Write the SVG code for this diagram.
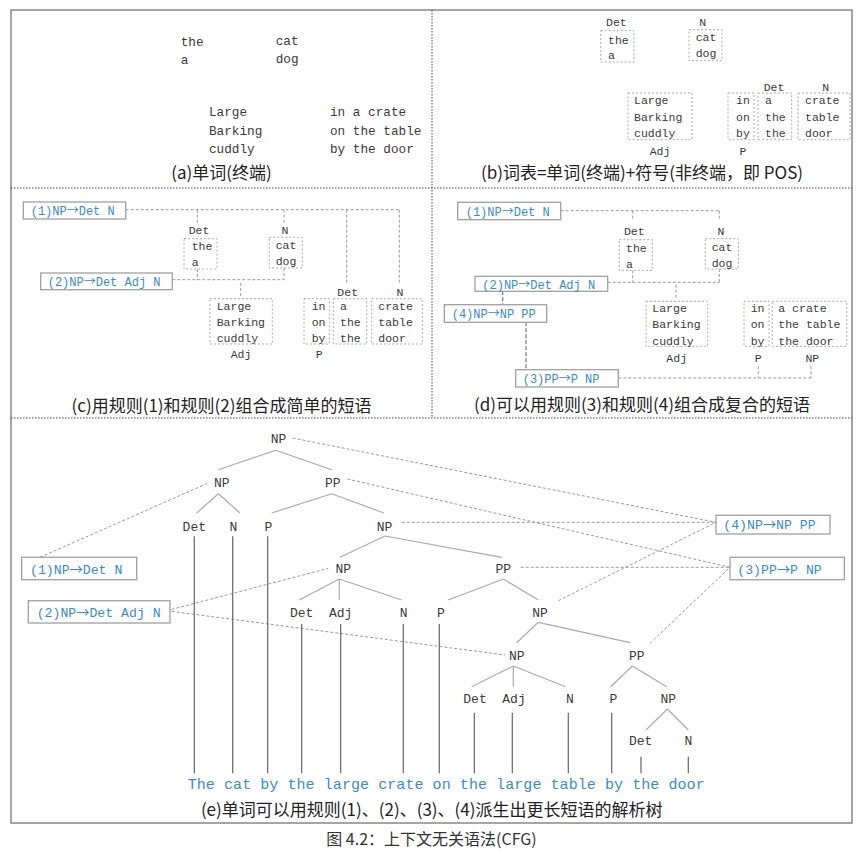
<svg xmlns="http://www.w3.org/2000/svg" width="868" height="852" viewBox="0 0 868 852">
<style>
.t{font-family:"Liberation Mono","DejaVu Sans Mono",monospace;fill:#3a3a3a}
.la{font-size:12.7px}
.lx{font-size:11.5px}
.tl{font-size:13px;text-anchor:middle}
.m{text-anchor:middle}
.r{font-family:"Liberation Mono","DejaVu Sans Mono",monospace;fill:#3a8cc8;font-size:12px}
.re{font-size:13.2px}
.ar{font-family:"Noto Sans CJK SC",sans-serif}
.rb{fill:#fff;stroke:#a0a0a0;stroke-width:1.3}
.lb{fill:none;stroke:#aaa;stroke-width:1;stroke-dasharray:2 2}
.d{fill:none;stroke:#999;stroke-width:1;stroke-dasharray:3 2}
.dk{fill:none;stroke:#777;stroke-width:1.2;stroke-dasharray:4 2}
.br{fill:none;stroke:#aaa;stroke-width:1.2}
.st{fill:none;stroke:#666;stroke-width:1.2}
.cap{font-family:"Noto Sans CJK SC",sans-serif;font-size:17px;fill:#222;text-anchor:middle}
.div{fill:none;stroke:#444;stroke-width:1;stroke-dasharray:1.5 1.5}
</style>
<rect width="868" height="852" fill="#fff"/>
<g id="frame">
<rect x="11" y="10" width="841" height="813" fill="none" stroke="#888" stroke-width="1.5"/>
<path class="div" d="M11 188H852M11 418H852M432 10V418"/>
</g>

<g id="panel-a">
<text class="t la" x="180.7" y="45.5">the</text>
<text class="t la" x="180.7" y="63.5">a</text>
<text class="t la" x="275.7" y="44.5">cat</text>
<text class="t la" x="275.7" y="62.5">dog</text>
<text class="t la" x="209" y="116">Large</text>
<text class="t la" x="209" y="134.5">Barking</text>
<text class="t la" x="209" y="153">cuddly</text>
<text class="t la" x="330" y="116">in a crate</text>
<text class="t la" x="330" y="134.5">on the table</text>
<text class="t la" x="330" y="153">by the door</text>
<text class="cap" x="221.5" y="178.5">(a)单词(终端)</text>
</g>

<g id="panel-b">
<text class="t lx" x="606" y="26">Det</text>
<rect class="lb" x="600.7" y="30.7" width="33.3" height="31.3"/>
<text class="t lx" x="608" y="43.5">the</text>
<text class="t lx" x="608" y="58.5">a</text>
<text class="t lx m" x="702.7" y="26">N</text>
<rect class="lb" x="689" y="29.7" width="33" height="31"/>
<text class="t lx" x="695.7" y="41">cat</text>
<text class="t lx" x="695.7" y="56.5">dog</text>
<rect class="lb" x="628" y="93" width="64" height="46.7"/>
<text class="t lx" x="634" y="104">Large</text>
<text class="t lx" x="634" y="120.5">Barking</text>
<text class="t lx" x="634" y="137">cuddly</text>
<text class="t lx m" x="660" y="155">Adj</text>
<rect class="lb" x="728" y="93" width="26" height="46.7"/>
<text class="t lx" x="736" y="104">in</text>
<text class="t lx" x="736" y="120.5">on</text>
<text class="t lx" x="736" y="137">by</text>
<text class="t lx m" x="743" y="155">P</text>
<text class="t lx m" x="774" y="91">Det</text>
<rect class="lb" x="758" y="93" width="33.7" height="46.7"/>
<text class="t lx" x="765" y="104">a</text>
<text class="t lx" x="765" y="120.5">the</text>
<text class="t lx" x="765" y="137">the</text>
<text class="t lx m" x="825.7" y="91">N</text>
<rect class="lb" x="798" y="93" width="52" height="46.7"/>
<text class="t lx" x="805" y="104">crate</text>
<text class="t lx" x="805" y="120.5">table</text>
<text class="t lx" x="805" y="137">door</text>
<text class="cap" x="642" y="179">(b)词表=单词(终端)+符号(非终端，即 POS)</text>
</g>

<g id="connectors">
<path class="d" d="M125.7 209.7H399.3M197.3 209.7V224.7M284 209.7V224.7M346.7 209.7V284.7M399.3 209.7V284.7"/>
<path class="d" d="M172.3 279.7H284M197.3 269V279.7M284 268V279.7M240.7 283V296.3"/>
<path class="d" d="M560.7 210.7H719.3M632.7 210.7V219.7M719.3 210.7V219.7"/>
<path class="d" d="M607.7 282.3H719.3M632.7 270.3V282.3M719.3 269V282.3M676 284.7V298"/>
<path class="dk" d="M502.7 291.3V304.7M526 322.3V369.7"/>
<path class="d" d="M618.3 378H811M758.3 366.3V378M811 366.3V378"/>
<path class="d" d="M40 557.3L208.3 483M166.7 610.7L328.3 568.3M166.7 610.7L505 655M292.7 438L716 522.3M401.7 522.3H716M558.3 600.7L716 522.3M347.3 479L730 567.3M520.7 567.3H730M650 643.3L730 567.3"/>
<path class="br" d="M275.7 450.3L218.3 469.7M275.7 450.3L331.7 469.7M218.3 493.7L196.7 513M218.3 493.7L240 513M331.7 493.7L271.7 513M331.7 493.7L384 513M385 536L340 557.3M385 536L501.7 557.3M339.3 579L299.3 600M339.3 579V600M339.3 579L401.7 600M503.3 579L448.3 600M503.3 579L538.3 600M538.3 622.3L516.7 642.7M538.3 622.3L630 642.7M513.3 666L471.7 686.7M513.3 666V686.7M513.3 666L565.7 686.7M632.3 666L610.7 686.7M632.3 666L666.7 686.7M667.3 709L646 730M667.3 709L688.3 730"/>
<path class="st" d="M194.3 536.3V773.3M232.7 536.3V773.3M267.7 536.3V773.3M301.7 624V773.3M340.7 624V773.3M403.3 624V773.3M439.3 624V773.3M474.3 712.7V773.3M512.3 712.7V773.3M568.3 712.7V773.3M611.7 712.7V773.3M641 756.7V773.3M688.3 756.7V773.3"/>
</g>

<g id="panel-c">
<g id="c-rule1"><rect class="rb" x="23.3" y="202" width="102.4" height="17"/><text class="r" x="30.7" y="215">(1)NP<tspan class="ar">→</tspan>Det N</text></g>
<g id="c-rule2"><rect class="rb" x="40.7" y="273" width="131.6" height="16.7"/><text class="r" x="47.7" y="285.5">(2)NP<tspan class="ar">→</tspan>Det Adj N</text></g>
<text class="t lx m" x="199" y="234">Det</text>
<rect class="lb" x="184" y="238.7" width="33" height="30.3"/>
<text class="t lx" x="191.7" y="250">the</text>
<text class="t lx" x="191.7" y="265.5">a</text>
<text class="t lx m" x="285" y="234">N</text>
<rect class="lb" x="269.3" y="237.3" width="33" height="30.7"/>
<text class="t lx" x="275.7" y="249">cat</text>
<text class="t lx" x="275.7" y="264.5">dog</text>
<rect class="lb" x="210" y="298.7" width="62.3" height="45.3"/>
<text class="t lx" x="216.7" y="310">Large</text>
<text class="t lx" x="216.7" y="326">Barking</text>
<text class="t lx" x="216.7" y="342">cuddly</text>
<text class="t lx m" x="241" y="358">Adj</text>
<rect class="lb" x="304" y="298.7" width="25.3" height="45.3"/>
<text class="t lx" x="311.7" y="310">in</text>
<text class="t lx" x="311.7" y="326">on</text>
<text class="t lx" x="311.7" y="342">by</text>
<text class="t lx m" x="319.3" y="358">P</text>
<text class="t lx m" x="347.7" y="296">Det</text>
<rect class="lb" x="333.3" y="298.7" width="33.4" height="45.3"/>
<text class="t lx" x="340" y="310">a</text>
<text class="t lx" x="340" y="326">the</text>
<text class="t lx" x="340" y="342">the</text>
<text class="t lx m" x="400" y="296">N</text>
<rect class="lb" x="371.7" y="298.7" width="50.6" height="45.3"/>
<text class="t lx" x="378.3" y="310">crate</text>
<text class="t lx" x="378.3" y="326">table</text>
<text class="t lx" x="378.3" y="342">door</text>
<text class="cap" x="221.5" y="412">(c)用规则(1)和规则(2)组合成简单的短语</text>
</g>

<g id="panel-d">
<g id="d-rule1"><rect class="rb" x="457.7" y="202.3" width="103" height="17.4"/><text class="r" x="465.7" y="215.5">(1)NP<tspan class="ar">→</tspan>Det N</text></g>
<g id="d-rule2"><rect class="rb" x="475" y="276.3" width="132.7" height="15"/><text class="r" x="482.3" y="288.5">(2)NP<tspan class="ar">→</tspan>Det Adj N</text></g>
<g id="d-rule4"><rect class="rb" x="444.3" y="304.7" width="102.4" height="17.6"/><text class="r" x="451.7" y="318">(4)NP<tspan class="ar">→</tspan>NP PP</text></g>
<g id="d-rule3"><rect class="rb" x="515.7" y="369.7" width="102.6" height="17.3"/><text class="r" x="522.7" y="382.5">(3)PP<tspan class="ar">→</tspan>P NP</text></g>
<text class="t lx m" x="634.3" y="235">Det</text>
<rect class="lb" x="619.3" y="239.7" width="33" height="30.6"/>
<text class="t lx" x="626" y="252">the</text>
<text class="t lx" x="626" y="267.5">a</text>
<text class="t lx m" x="721" y="235">N</text>
<rect class="lb" x="705.3" y="238.7" width="33" height="30.3"/>
<text class="t lx" x="711.7" y="251">cat</text>
<text class="t lx" x="711.7" y="266.5">dog</text>
<rect class="lb" x="646" y="301.3" width="61.7" height="45"/>
<text class="t lx" x="652.3" y="312">Large</text>
<text class="t lx" x="652.3" y="328">Barking</text>
<text class="t lx" x="652.3" y="344.5">cuddly</text>
<text class="t lx m" x="676.7" y="361.5">Adj</text>
<rect class="lb" x="744" y="301.3" width="25" height="45"/>
<text class="t lx" x="750.7" y="312">in</text>
<text class="t lx" x="750.7" y="328">on</text>
<text class="t lx" x="750.7" y="344.5">by</text>
<text class="t lx m" x="758.3" y="361.5">P</text>
<rect class="lb" x="772.3" y="301.3" width="74.4" height="45"/>
<text class="t lx" x="778.3" y="312">a crate</text>
<text class="t lx" x="778.3" y="328">the table</text>
<text class="t lx" x="778.3" y="344.5">the door</text>
<text class="t lx m" x="812.3" y="361.5">NP</text>
<text class="cap" x="642" y="411">(d)可以用规则(3)和规则(4)组合成复合的短语</text>
</g>

<g id="panel-e">
<g id="e-rule1"><rect class="rb" x="21.7" y="557.3" width="115" height="22.4"/><text class="r re" x="30" y="574">(1)NP<tspan class="ar">→</tspan>Det N</text></g>
<g id="e-rule2"><rect class="rb" x="28.3" y="600.7" width="141.7" height="22.3"/><text class="r re" x="36.7" y="616.5">(2)NP<tspan class="ar">→</tspan>Det Adj N</text></g>
<g id="e-rule4"><rect class="rb" x="716" y="515.3" width="114" height="18.7"/><text class="r re" x="723.3" y="529">(4)NP<tspan class="ar">→</tspan>NP PP</text></g>
<g id="e-rule3"><rect class="rb" x="730" y="557.3" width="114.3" height="22.4"/><text class="r re" x="737.3" y="573.5">(3)PP<tspan class="ar">→</tspan>P NP</text></g>
<g id="e-tree">
<text class="t tl" x="278.5" y="443">NP</text>
<text class="t tl" x="221.7" y="486.5">NP</text>
<text class="t tl" x="332.7" y="486.5">PP</text>
<text class="t tl" x="194.3" y="530.5">Det</text>
<text class="t tl" x="233.3" y="530.5">N</text>
<text class="t tl" x="268.3" y="530.5">P</text>
<text class="t tl" x="384.5" y="530.5">NP</text>
<text class="t tl" x="343.3" y="573">NP</text>
<text class="t tl" x="503.3" y="573">PP</text>
<text class="t tl" x="301.7" y="616.5">Det</text>
<text class="t tl" x="340.7" y="616.5">Adj</text>
<text class="t tl" x="403.7" y="616.5">N</text>
<text class="t tl" x="441" y="616.5">P</text>
<text class="t tl" x="540" y="616.5">NP</text>
<text class="t tl" x="516.7" y="660">NP</text>
<text class="t tl" x="636.7" y="660">PP</text>
<text class="t tl" x="475" y="702.5">Det</text>
<text class="t tl" x="514" y="702.5">Adj</text>
<text class="t tl" x="570" y="702.5">N</text>
<text class="t tl" x="613.3" y="702.5">P</text>
<text class="t tl" x="668.3" y="702.5">NP</text>
<text class="t tl" x="640.7" y="745">Det</text>
<text class="t tl" x="688.3" y="745">N</text>
</g>
<text x="187.7" y="788.5" font-family="Liberation Mono, DejaVu Sans Mono, monospace" font-size="15" fill="#3a8cc8" textLength="517" lengthAdjust="spacing">The cat by the large crate on the large table by the door</text>
<text class="cap" x="431.7" y="816">(e)单词可以用规则(1)、(2)、(3)、(4)派生出更长短语的解析树</text>
</g>

<g id="caption">
<text x="431.5" y="845" font-family="Noto Sans CJK SC, sans-serif" font-size="16" fill="#333" text-anchor="middle">图 4.2：上下文无关语法(CFG)</text>
</g>
</svg>
